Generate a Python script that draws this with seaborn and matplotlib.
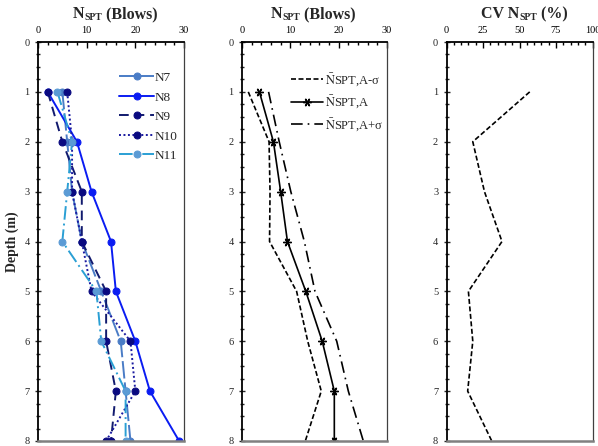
import numpy as np
import pandas as pd
import matplotlib
matplotlib.use("Agg")
import matplotlib.pyplot as plt
from matplotlib.ticker import MultipleLocator
from matplotlib.text import Annotation
import seaborn as sns

# depth (m)
depth = [1, 2, 3, 4, 5, 6, 7, 8]

# panel 1: N_SPT per borehole (blows)
n7 = [5, 6, 7, 9, 13, 17, 18, 19]
n8 = [2, 8, 11, 15, 16, 20, 23, 29]
n9 = [2, 5, 9, 9, 14, 14, 16, 15]
n10 = [6, 7, 7, 9, 11, 19, 20, 14]
n11 = [4, 7, 6, 5, 12, 13, 18, 18]

# panel 2: mean and mean +/- sigma
n_minus = [1.3, 5.6, 5.8, 5.7, 11.3, 13.6, 16.4, 13.1]
n_mean = [3.6, 6.5, 8.0, 9.4, 13.2, 16.6, 19.1, 19.1]
n_plus = [5.5, 7.7, 10.1, 12.9, 15.1, 19.6, 22.0, 25.1]

# panel 3: coefficient of variation (%)
cv = [57, 18, 26, 38, 15, 18, 14.5, 31]

sns.set_style("white")
plt.rcParams["font.family"] = ["Liberation Serif", "DejaVu Serif"]
plt.rcParams["mathtext.fontset"] = "stix"

fig = plt.figure(figsize=(5.98, 4.46), dpi=100)
ax1 = fig.add_axes([38 / 598, 5 / 446, 146 / 598, 399 / 446])
ax2 = fig.add_axes([242 / 598, 5 / 446, 145 / 598, 399 / 446])
ax3 = fig.add_axes([446.5 / 598, 5 / 446, 146 / 598, 399 / 446])


def style_axis(ax, xmax, xmajor, xminor):
    ax.set_xlim(0, xmax)
    ax.set_ylim(8, 0)
    ax.xaxis.tick_top()
    ax.xaxis.set_major_locator(MultipleLocator(xmajor))
    ax.xaxis.set_minor_locator(MultipleLocator(xminor))
    ax.yaxis.set_major_locator(MultipleLocator(1))
    ax.yaxis.set_minor_locator(MultipleLocator(0.25))
    ax.tick_params(axis="x", which="both", direction="in", top=True, bottom=False,
                   labelsize=7.5, pad=5, colors="black")
    ax.tick_params(axis="x", which="major", length=4, width=1)
    ax.tick_params(axis="x", which="minor", length=2.5, width=1)
    ax.tick_params(axis="y", which="both", direction="inout", left=True,
                   labelsize=7.5, pad=4)
    ax.tick_params(axis="y", which="major", length=4, width=1)
    ax.tick_params(axis="y", which="minor", length=2.5, width=1)
    ax.set_xlabel("")
    ax.set_ylabel("")
    for side in ["left", "top"]:
        ax.spines[side].set_color("black")
        ax.spines[side].set_linewidth(1.3)
    ax.spines["right"].set_color("#404040")
    ax.spines["right"].set_linewidth(0.9)
    ax.spines["bottom"].set_color("#808080")
    ax.spines["bottom"].set_linewidth(1.8)


# ---- panel 1 ----
series = [
    ("N7", n7, "#4a7cc6", "#4a7cc6", (0, (9, 2))),
    ("N8", n8, "#0a1cf2", "#0a1cf2", "-"),
    ("N9", n9, "#111a6e", "#0a0a80", (0, (5, 3))),
    ("N10", n10, "#1a1aa0", "#0a0a80", (0, (1, 1.3))),
    ("N11", n11, "#2a9fd4", "#5b9bd5", (0, (7, 2, 1, 2))),
]
for name, vals, lc, mc, ls in series:
    sns.lineplot(x=vals, y=depth, ax=ax1, estimator=None, sort=False, orient="y",
                 color=lc, linestyle=ls, linewidth=1.4, marker="o", markersize=5,
                 markerfacecolor=mc, markeredgecolor=mc, label=name)
style_axis(ax1, 30, 10, 2)
ax1.legend(loc="upper right", bbox_to_anchor=(1.04, 0.955), frameon=False,
           fontsize=9.5, handlelength=2.6, handletextpad=0.1, labelspacing=0.55)
ax1.set_ylabel("Depth (m)", fontsize=10, fontweight="bold", labelpad=4)

# ---- panel 2 ----
bar_n = r"$\bar{\mathrm{N}}$"
sns.lineplot(x=n_minus, y=depth, ax=ax2, estimator=None, sort=False, orient="y",
             color="black", linestyle=(0, (3, 1.5)), linewidth=1.2,
             label=bar_n + "SPT,A-\u03c3")
sns.lineplot(x=n_mean, y=depth, ax=ax2, estimator=None, sort=False, orient="y",
             color="black", linestyle="-", linewidth=1.2, marker=(6, 2, 90),
             markersize=6, markeredgecolor="black", markeredgewidth=1.0,
             label=bar_n + "SPT,A")
sns.lineplot(x=n_plus, y=depth, ax=ax2, estimator=None, sort=False, orient="y",
             color="black", linestyle=(0, (7, 3, 1, 3)), linewidth=1.2,
             label=bar_n + "SPT,A+\u03c3")
style_axis(ax2, 30, 10, 2)
ax2.legend(loc="upper right", bbox_to_anchor=(1.05, 0.955), frameon=False,
           fontsize=9, handlelength=2.6, handletextpad=0.1, labelspacing=0.45)

# ---- panel 3 ----
sns.lineplot(x=cv, y=depth, ax=ax3, estimator=None, sort=False, orient="y",
             color="black", linestyle=(0, (3, 1.5)), linewidth=1.2)
style_axis(ax3, 100, 25, 5)


# titles: big N followed by small-caps SPT
def chain_title(x0, parts):
    prev = None
    for txt, size in parts:
        if prev is None:
            prev = fig.text(x0, 1 - 22 / 446, txt, fontsize=size, fontweight="bold",
                            va="bottom", ha="left")
        else:
            prev = fig.add_artist(Annotation(
                txt, xy=(1, 0), xycoords=prev, va="bottom", ha="left",
                fontsize=size, fontweight="bold"))


chain_title(73 / 598, [("N", 11.5), ("SPT", 7), (" (Blows)", 11.5)])
chain_title(271 / 598, [("N", 11.5), ("SPT", 7), (" (Blows)", 11.5)])
chain_title(481 / 598, [("CV N", 11.5), ("SPT", 7), (" (%)", 11.5)])

fig.savefig("out.png", dpi=100)
